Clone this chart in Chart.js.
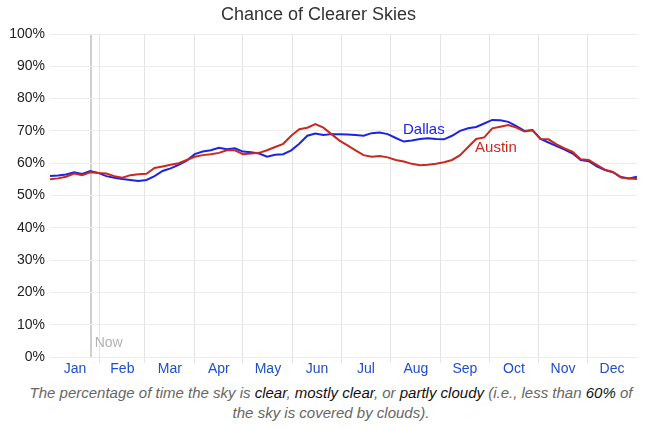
<!DOCTYPE html>
<html>
<head>
<meta charset="utf-8">
<script src="https://cdn.jsdelivr.net/npm/chart.js@4"></script>
<style>
    body { margin: 0; background: #fff; font-family: "Liberation Sans", Arial, sans-serif; }
    #wrap { position: relative; width: 662px; height: 378px; }
    #caption {
        width: 662px; margin-top: 5px; text-align: center;
        font-style: italic; font-size: 15px; line-height: 20px; color: #666;
    }
    #caption b { font-weight: normal; color: #111; }
</style>
</head>
<body>
<div id="wrap"><canvas id="chart"></canvas></div>
<div id="caption">The percentage of time the sky is <b>clear</b>, <b>mostly clear</b>, or <b>partly cloudy</b> (i.e., less than <b>60%</b> of<br>the sky is covered by clouds).</div>

<script>
// DATA (day of year, % of time with clearer skies)
const days = [0, 5, 10, 15, 20, 25, 30, 35, 40, 45, 50, 55, 60, 65, 70, 75, 80, 85, 90, 95,
    100, 105, 110, 115, 120, 125, 130, 135, 140, 145, 150, 155, 160, 165, 170, 175, 180, 185, 190, 195,
    200, 205, 210, 215, 220, 225, 230, 235, 240, 245, 250, 255, 260, 265, 270, 275, 280, 285, 290, 295,
    300, 305, 310, 315, 320, 325, 330, 335, 340, 345, 350, 355, 360, 365];

const dallas = [56.0, 56.2, 56.5, 57.2, 56.7, 57.6, 57.0, 56.0, 55.5, 55.1, 54.8, 54.5, 54.8, 56.0, 57.6, 58.4, 59.5, 60.8, 62.8, 63.6,
    64.0, 64.8, 64.3, 64.6, 63.6, 63.4, 63.0, 62.0, 62.6, 62.8, 64.0, 66.0, 68.5, 69.2, 68.7, 69.0, 69.0, 68.9, 68.7, 68.5,
    69.3, 69.5, 69.0, 67.8, 66.7, 67.0, 67.5, 67.7, 67.5, 67.4, 68.5, 70.0, 70.8, 71.2, 72.3, 73.4, 73.3, 72.8, 71.5, 70.0,
    70.3, 67.5, 66.4, 65.3, 64.2, 63.0, 61.0, 60.6, 59.0, 57.9, 57.2, 55.7, 55.3, 55.8];

const austin = [55.0, 55.3, 55.8, 56.8, 56.3, 57.2, 57.0, 56.8, 56.0, 55.5, 56.3, 56.6, 56.7, 58.5, 59.0, 59.5, 60.0, 61.0, 62.0, 62.5,
    62.8, 63.2, 64.0, 64.0, 62.8, 63.0, 63.2, 64.0, 65.0, 66.0, 68.5, 70.5, 71.0, 72.1, 71.0, 69.0, 67.0, 65.5, 64.0, 62.5,
    62.0, 62.2, 61.8, 61.0, 60.5, 59.8, 59.4, 59.5, 59.8, 60.3, 61.0, 62.5, 65.0, 67.5, 68.0, 70.8, 71.3, 71.8, 71.0, 69.8,
    70.2, 67.5, 67.4, 65.8, 64.6, 63.5, 61.2, 61.0, 59.5, 58.0, 57.3, 55.6, 55.3, 55.1];

const monthNames = ['Jan', 'Feb', 'Mar', 'Apr', 'May', 'Jun', 'Jul', 'Aug', 'Sep', 'Oct', 'Nov', 'Dec'];
const monthStarts = [0, 31, 59, 90, 120, 151, 181, 212, 243, 273, 304, 334, 365];
const nowDay = 25.3;

const dallasColor = '#1c24e2';
const austinColor = '#c92a1f';
const monthColor = '#1f4fc8';

// label sits in the middle of each month, grid lines on the month edges
const monthMids = monthNames.map((m, i) => (monthStarts[i] + monthStarts[i + 1]) / 2);
const innerStarts = monthStarts.slice(1, 12);
const xTickValues = [nowDay, ...innerStarts, ...monthMids];

// series name labels + "Now" marker text
const textPlugin = {
    id: 'textLabels',
    afterDatasetsDraw(chart) {
        const { ctx, scales: { x, y } } = chart;
        ctx.save();
        ctx.textBaseline = 'middle';
        ctx.textAlign = 'left';
        ctx.font = '15px "Liberation Sans", Arial, sans-serif';
        ctx.fillStyle = dallasColor;
        ctx.fillText('Dallas', x.getPixelForValue(219.5), y.getPixelForValue(70.3));
        ctx.fillStyle = austinColor;
        ctx.fillText('Austin', x.getPixelForValue(264.3), y.getPixelForValue(64.7));
        ctx.font = '14px "Liberation Sans", Arial, sans-serif';
        ctx.fillStyle = '#b3b3b3';
        ctx.fillText('Now', x.getPixelForValue(nowDay) + 4, y.bottom - 14);
        ctx.restore();
    }
};

const ctx = document.getElementById('chart').getContext('2d');
new Chart(ctx, {
    type: 'line',
    data: {
        datasets: [
            {
                label: 'Austin',
                data: days.map((d, i) => ({ x: d, y: austin[i] })),
                borderColor: austinColor,
                borderWidth: 2,
                pointRadius: 0,
                tension: 0
            },
            {
                label: 'Dallas',
                data: days.map((d, i) => ({ x: d, y: dallas[i] })),
                borderColor: dallasColor,
                borderWidth: 2,
                pointRadius: 0,
                tension: 0
            }
        ]
    },
    options: {
        responsive: true,
        maintainAspectRatio: false,
        animation: false,
        layout: { padding: { left: 0, right: 25, top: 0, bottom: 0 } },
        plugins: {
            legend: { display: false },
            tooltip: { enabled: false },
            title: {
                display: true,
                text: 'Chance of Clearer Skies',
                color: '#333',
                font: { size: 18, weight: 'normal', family: '"Liberation Sans", Arial, sans-serif' },
                padding: { top: 4, bottom: 8.4 }
            }
        },
        scales: {
            x: {
                type: 'linear',
                min: 0,
                max: 365,
                afterBuildTicks: (scale) => {
                    scale.ticks = xTickValues.map(v => ({ value: v }));
                },
                afterFit: (scale) => { scale.height = 21; },
                border: { display: false },
                grid: {
                    color: (c) => {
                        const v = c.tick && c.tick.value;
                        if (v === nowDay) return '#cfcfcf';
                        if (innerStarts.includes(v)) return '#e4e4e4';
                        return 'rgba(0,0,0,0)';
                    },
                    tickColor: (c) => {
                        const v = c.tick && c.tick.value;
                        return innerStarts.includes(v) ? '#e4e4e4' : 'rgba(0,0,0,0)';
                    },
                    lineWidth: (c) => (c.tick && c.tick.value === nowDay ? 2 : 1),
                    tickLength: 6
                },
                ticks: {
                    autoSkip: false,
                    maxRotation: 0,
                    padding: -2,
                    color: monthColor,
                    font: { size: 14, family: '"Liberation Sans", Arial, sans-serif' },
                    callback: (v) => {
                        const i = monthMids.indexOf(v);
                        return i >= 0 ? monthNames[i] : '';
                    }
                }
            },
            y: {
                min: 0,
                max: 100,
                afterFit: (scale) => { scale.width = 50; },
                border: { display: false },
                grid: { color: '#ececec', drawTicks: false },
                ticks: {
                    stepSize: 10,
                    padding: 5,
                    color: '#222',
                    font: { size: 14, family: '"Liberation Sans", Arial, sans-serif' },
                    callback: (v) => v + '%'
                }
            }
        }
    },
    plugins: [textPlugin]
});
</script>
</body>
</html>
